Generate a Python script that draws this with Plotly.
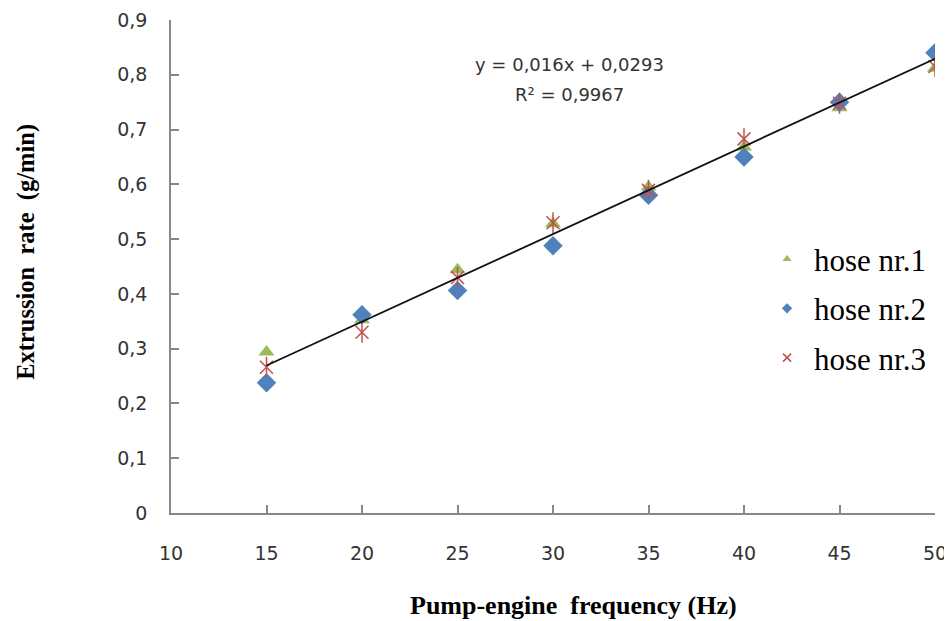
import plotly.graph_objects as go

freq = [15, 20, 25, 30, 35, 40, 45, 50]
hose1 = [0.294, 0.353, 0.444, 0.528, 0.595, 0.668, 0.740, 0.812]
hose2 = [0.238, 0.362, 0.406, 0.488, 0.580, 0.650, 0.750, 0.840]
hose3 = [0.266, 0.330, 0.430, 0.530, 0.589, 0.683, 0.748, 0.815]
slope = 0.016
intercept = 0.0293
x_ticks = [10, 15, 20, 25, 30, 35, 40, 45, 50]
y_ticks = [0, 0.1, 0.2, 0.3, 0.4, 0.5, 0.6, 0.7, 0.8, 0.9]

green = "#9BBB59"
blue = "#4F81BD"
red = "#C0504D"
axis_col = "#878787"
tick_font = dict(family="DejaVu Sans", size=19, color="#333333")

fig = go.Figure()

# plotted markers
fig.add_trace(go.Scatter(x=freq, y=hose1, mode="markers", showlegend=False,
                         marker=dict(symbol="triangle-up", size=14, color=green)))
fig.add_trace(go.Scatter(x=freq, y=hose2, mode="markers", showlegend=False,
                         marker=dict(symbol="diamond", size=15, color=blue)))
fig.add_trace(go.Scatter(x=freq, y=hose3, mode="markers", showlegend=False,
                         marker=dict(symbol="x-thin-open", size=13, color=red,
                                     line=dict(color=red, width=1.5))))
fig.add_trace(go.Scatter(x=freq, y=hose3, mode="markers", showlegend=False,
                         marker=dict(symbol="line-ns-open", size=15, color=red,
                                     line=dict(color=red, width=1.5))))

# trendline
fit_x = [min(freq), max(freq)]
fit_y = [slope * v + intercept for v in fit_x]
fig.add_trace(go.Scatter(x=fit_x, y=fit_y, mode="lines", showlegend=False,
                         line=dict(color="#111111", width=1.8)))

# legend entries
fig.add_trace(go.Scatter(x=[None], y=[None], mode="markers", name="hose nr.1",
                         legendgroup="a",
                         marker=dict(symbol="triangle-up", size=8, color=green)))
fig.add_trace(go.Scatter(x=[None], y=[None], mode="markers", name="hose nr.2",
                         legendgroup="b",
                         marker=dict(symbol="diamond", size=8, color=blue)))
fig.add_trace(go.Scatter(x=[None], y=[None], mode="markers", name="hose nr.3",
                         legendgroup="c",
                         marker=dict(symbol="x-thin-open", size=8, color=red,
                                     line=dict(color=red, width=1.5))))

eq_font = dict(family="DejaVu Sans", size=18, color="#333333")
fig.add_annotation(x=0.522, y=0.909, xref="paper", yref="paper",
                   text="y = 0,016x + 0,0293", showarrow=False, font=eq_font,
                   xanchor="center", yanchor="middle")
fig.add_annotation(x=0.522, y=0.848, xref="paper", yref="paper",
                   text="R² = 0,9967", showarrow=False, font=eq_font,
                   xanchor="center", yanchor="middle")

# axis titles
fig.add_annotation(x=0.527, y=0, xref="paper", yref="paper", yshift=-92,
                   text="<b>Pump-engine  frequency (Hz)</b>", showarrow=False,
                   font=dict(family="Liberation Serif", size=26, color="black"),
                   xanchor="center", yanchor="middle")
fig.add_annotation(x=-0.189, y=0.529, xref="paper", yref="paper", textangle=-90,
                   text="<b>Extrussion  rate  (g/min)</b>", showarrow=False,
                   font=dict(family="Liberation Serif", size=24.5, color="black"),
                   xanchor="center", yanchor="middle")

# the page body adds an 8px offset, so the figure is sized/margined to compensate
fig.update_layout(
    width=944, height=613,
    margin=dict(l=163, r=17, t=12, b=108, autoexpand=False),
    paper_bgcolor="white", plot_bgcolor="white",
    separators=",.",
    showlegend=True,
    legend=dict(x=0.771, y=0.415, xanchor="left", yanchor="middle",
                font=dict(family="Liberation Serif", size=31, color="black"),
                traceorder="grouped", tracegroupgap=6, itemwidth=44,
                bgcolor="rgba(0,0,0,0)"),
    xaxis=dict(range=[10, 50], tickvals=x_ticks, showgrid=False, zeroline=False,
               showline=True, linecolor=axis_col, linewidth=1.5, automargin=False,
               ticks="inside", ticklen=8, tickcolor=axis_col, tickwidth=1.5,
               tickfont=tick_font, ticklabelstandoff=22),
    yaxis=dict(range=[0, 0.9], tickvals=y_ticks, tickformat=".1~f", showgrid=False,
               zeroline=False, showline=True, linecolor=axis_col, linewidth=1.5,
               automargin=False,
               ticks="inside", ticklen=8, tickcolor=axis_col, tickwidth=1.5,
               tickfont=tick_font, ticklabelstandoff=18),
)

fig.write_html("out.html")
